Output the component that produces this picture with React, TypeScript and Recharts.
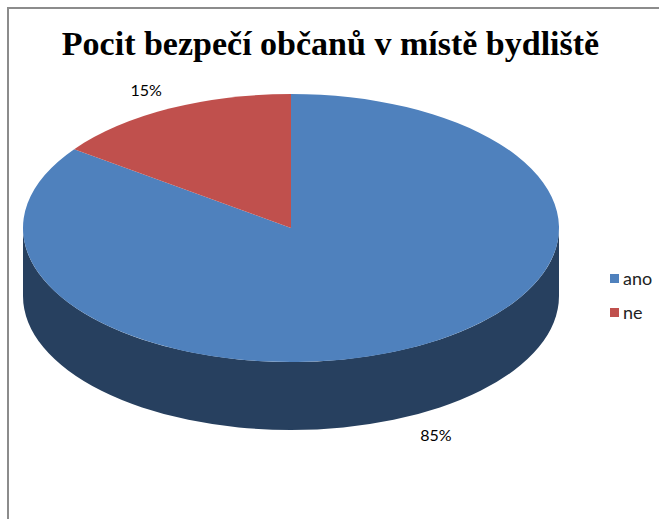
import React from 'react';
import { PieChart, Pie, Cell, Legend } from 'recharts';

const categories = ['ano', 'ne'];
const values = [85, 15];
const topColors = ['#4F81BD', '#C0504D'];
const sideColors = ['#27405F', '#7A2E2C'];
const title = 'Pocit bezpečí občanů v místě bydliště';

const data = categories.map((name, i) => ({ name, value: values[i] }));

const TILT = 0.5;
const DEPTH = 68;
const RAD = Math.PI / 180;

const ept = (cx: number, cy: number, rx: number, ry: number, a: number, dy = 0) => [
  cx + rx * Math.cos(a * RAD),
  cy - ry * Math.sin(a * RAD) + dy,
];

const TopShape = (p: any) => {
  const { cx, cy, outerRadius, startAngle, endAngle, fill } = p;
  const rx = outerRadius;
  const ry = outerRadius * TILT;
  const [x1, y1] = ept(cx, cy, rx, ry, startAngle);
  const [x2, y2] = ept(cx, cy, rx, ry, endAngle);
  const delta = Math.abs(endAngle - startAngle);
  const large = delta > 180 ? 1 : 0;
  const sweep = endAngle < startAngle ? 1 : 0;
  const d = `M${cx},${cy} L${x1},${y1} A${rx},${ry} 0 ${large} ${sweep} ${x2},${y2} Z`;
  return <path d={d} fill={fill} stroke="none" />;
};

const SideShape = (p: any) => {
  const { cx, cy, outerRadius, startAngle, endAngle, fill } = p;
  const rx = outerRadius;
  const ry = outerRadius * TILT;
  const lo = Math.min(startAngle, endAngle);
  const hi = Math.max(startAngle, endAngle);
  const parts: JSX.Element[] = [];
  for (let k = -2; k <= 2; k++) {
    const a = Math.max(lo, 360 * k - 180);
    const b = Math.min(hi, 360 * k);
    if (b - a > 0.01) {
      const [ax, ay] = ept(cx, cy, rx, ry, a);
      const [bx, by] = ept(cx, cy, rx, ry, b);
      const [bbx, bby] = ept(cx, cy, rx, ry, b, DEPTH);
      const [abx, aby] = ept(cx, cy, rx, ry, a, DEPTH);
      const d = `M${ax},${ay} A${rx},${ry} 0 0 0 ${bx},${by} L${bbx},${bby} A${rx},${ry} 0 0 1 ${abx},${aby} Z`;
      parts.push(<path key={k} d={d} fill={fill} stroke="none" />);
    }
  }
  return <g>{parts}</g>;
};

const renderLabel = (p: any) => {
  const { cx, cy, outerRadius, midAngle, percent } = p;
  const rx = outerRadius + 51;
  const ry = outerRadius * TILT + 21;
  const s = Math.sin(midAngle * RAD);
  const x = cx + rx * Math.cos(midAngle * RAD);
  const y = cy - ry * s + (s < 0 ? DEPTH : 0);
  return (
    <text x={x} y={y} textAnchor="middle" dominantBaseline="central" fill="#000" fontSize={16} fontFamily="Lato, 'Open Sans', sans-serif">
      {`${Math.round(percent * 100)}%`}
    </text>
  );
};

const LegendContent = (props: any) => {
  const { payload } = props;
  const items = (payload || []).filter((item: any) => topColors.includes(item.color));
  return (
    <div style={{ fontFamily: "Lato, 'Open Sans', sans-serif", fontSize: 18, color: '#222' }}>
      {items.map((item: any, i: number) => (
        <div key={i} style={{ display: 'flex', alignItems: 'center', height: 34 }}>
          <div style={{ width: 9, height: 9, background: item.color, marginRight: 4 }} />
          <span>{item.value}</span>
        </div>
      ))}
    </div>
  );
};

export default function App() {
  return (
    <div style={{ position: 'absolute', left: 0, top: 0, width: 659, height: 519, background: '#fff', overflow: 'hidden' }}>
      <div style={{ position: 'absolute', left: 7, top: 7, width: 700, height: 600, borderTop: '2px solid #8c8c8c', borderLeft: '2px solid #8c8c8c' }} />
      <div style={{ position: 'absolute', left: 0, width: 659, top: 24, textAlign: 'center', fontFamily: "'Liberation Serif', 'Times New Roman', serif", fontWeight: 'bold', fontSize: 34, color: '#000', lineHeight: '40px', paddingLeft: 1 }}>
        {title}
      </div>
      <div style={{ position: 'absolute', left: 0, top: 0 }}>
        <PieChart width={659} height={519} margin={{ top: 0, right: 0, bottom: 0, left: 0 }}>
          <Pie
            data={data}
            dataKey="value"
            nameKey="name"
            cx={291}
            cy={228}
            outerRadius={268}
            startAngle={90}
            endAngle={-270}
            isAnimationActive={false}
            legendType="none"
            shape={SideShape}
            label={false}
            labelLine={false}
          >
            {data.map((d, i) => (
              <Cell key={d.name} fill={sideColors[i]} />
            ))}
          </Pie>
          <Pie
            data={data}
            dataKey="value"
            nameKey="name"
            cx={291}
            cy={228}
            outerRadius={268}
            startAngle={90}
            endAngle={-270}
            isAnimationActive={false}
            legendType="square"
            shape={TopShape}
            label={renderLabel}
            labelLine={false}
          >
            {data.map((d, i) => (
              <Cell key={d.name} fill={topColors[i]} />
            ))}
          </Pie>
          <Legend
            content={LegendContent}
            wrapperStyle={{ position: 'absolute', left: 610, top: 261, width: 60 }}
          />
        </PieChart>
      </div>
    </div>
  );
}
